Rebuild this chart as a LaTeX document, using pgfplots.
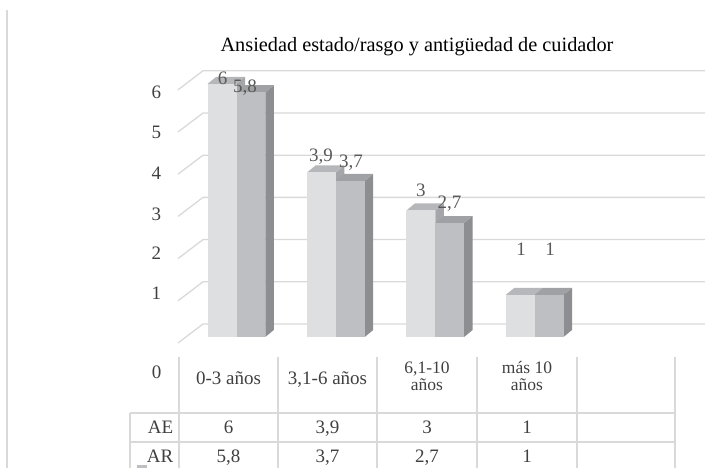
\documentclass[border=0pt]{standalone}
\usepackage{fontspec}
\setmainfont{Liberation Serif}
\usepackage{pgfplots}
\usepackage{pgfplotstable}
\pgfplotsset{compat=1.18}

\definecolor{gridc}{HTML}{D9D9D9}
\definecolor{aefront}{HTML}{DEDFE1}
\definecolor{aetop}{HTML}{B6B7BA}
\definecolor{aeside}{HTML}{A5A6A9}
\definecolor{arfront}{HTML}{BEBFC2}
\definecolor{artop}{HTML}{A0A1A4}
\definecolor{arside}{HTML}{8D8E91}
\definecolor{txt}{HTML}{404040}
\definecolor{labc}{HTML}{595959}

% AE = ansiedad estado, AR = ansiedad rasgo
\pgfplotstableread{
cat AE AR
0 6 5.8
1 3.9 3.7
2 3 2.7
3 1 1
}\datatable

% one 3D bar: left x, right x, value, colour prefix
\newcommand\drawbar[4]{%
  \pgfmathsetmacro\xl{#1}\pgfmathsetmacro\xr{#2}\pgfmathsetmacro\bv{#3}%
  \pgfmathsetmacro\xld{\xl+0.0855}\pgfmathsetmacro\xrd{\xr+0.0855}%
  \pgfmathsetmacro\bvd{\bv+0.166}%
  \edef\tmp{%
    \noexpand\addplot[draw=none, fill=#4side] coordinates {(\xr,0) (\xr,\bv) (\xrd,\bvd) (\xrd,0.166)} -- cycle;
    \noexpand\addplot[draw=none, fill=#4top] coordinates {(\xl,\bv) (\xld,\bvd) (\xrd,\bvd) (\xr,\bv)} -- cycle;
    \noexpand\addplot[draw=none, fill=#4front] coordinates {(\xl,0) (\xr,0) (\xr,\bv) (\xl,\bv)} -- cycle;
  }\tmp
}

\begin{document}
\begin{tikzpicture}[x=1pt,y=1pt]
% frame line on the left
\draw[gridc, line width=1.5pt] (7,0) -- (7,458);

% grid lines (side wall + back wall)
\foreach \k in {0,...,6}{
  \draw[gridc, line width=1.3pt] (178,125+42.2*\k) -- (203,144+42.2*\k) -- (705,144+42.2*\k);
}

\begin{axis}[
    at={(0,0)}, anchor=south west,
    width=705pt, height=468pt, scale only axis,
    xmin=-2.3793, xmax=4.7133,
    ymin=-3.1043, ymax=7.9858,
    hide axis, clip=false,
]
\pgfplotsforeachungrouped \i in {0,1,2,3}{%
  \pgfplotstablegetelem{\i}{AE}\of\datatable \let\vae\pgfplotsretval
  \pgfplotstablegetelem{\i}{AR}\of\datatable \let\var\pgfplotsretval
  \drawbar{\i-0.29}{\i}{\vae}{ae}%
  \drawbar{\i}{\i+0.29}{\var}{ar}%
}

% data labels
\addplot[draw=none, mark=none, nodes near coords={\pgfplotspointmeta},
  point meta=explicit symbolic,
  every node near coord/.style={anchor=base, inner sep=0pt, text=labc,
    font=\fontsize{19}{19}\selectfont}]
  coordinates {
  (-0.1408,5.9716) [6]
  (0.0855,5.7820) [5,8]
  (0.8501,4.1469) [3,9]
  (1.1519,4.0047) [3,7]
  (1.8561,3.3175) [3]
  (2.1429,3.0332) [2,7]
  (2.8622,1.9194) [1]
  (3.1539,1.9194) [1]
};
\end{axis}

% title
\node[anchor=base, font=\fontsize{20.3}{24}\selectfont] at (417,416.3)
  {Ansiedad estado/rasgo y antigüedad de cuidador};

% value axis labels
\begin{scope}[every node/.style={anchor=base, inner sep=0pt, text=txt,
    font=\fontsize{19}{19}\selectfont}]
\node at (156.3,468-98.3) {6};
\node at (156.3,468-138.7) {5};
\node at (156.3,468-179.3) {4};
\node at (156.3,468-220.7) {3};
\node at (156.3,468-260) {2};
\node at (156.3,468-300) {1};
\node at (156.5,468-379) {0};

% data table
\node at (228.5,468-385) {0-3 años};
\node at (327.5,468-385) {3,1-6 años};
\node[font=\fontsize{17.5}{17.5}\selectfont] at (427,468-373.5) {6,1-10};
\node[font=\fontsize{17.5}{17.5}\selectfont] at (427,468-391) {años};
\node[font=\fontsize{17.5}{17.5}\selectfont] at (527,468-373.5) {más 10};
\node[font=\fontsize{17.5}{17.5}\selectfont] at (527,468-391) {años};
\node[anchor=base east] at (173.5,468-434) {AE};
\node[anchor=base east] at (173.5,468-463) {AR};
\node at (228.5,468-434) {6};
\node at (327.5,468-434) {3,9};
\node at (427,468-434) {3};
\node at (527,468-434) {1};
\node at (228.5,468-463) {5,8};
\node at (327.5,468-463) {3,7};
\node at (427,468-463) {2,7};
\node at (527,468-463) {1};
\end{scope}

\begin{scope}[gridc, line width=1.3pt]
\foreach \xx in {179,278,377,477,577,675}{
  \draw (\xx,468-357) -- (\xx,0);
}
\draw (130,468-413) -- (130,0);
\draw (130,468-413) -- (675,468-413);
\draw (130,468-442) -- (675,468-442);
\end{scope}
\fill[arfront] (137,0) rectangle (147,2.5);

\pgfresetboundingbox
\path (0,0) rectangle (705,468);
\end{tikzpicture}
\end{document}
